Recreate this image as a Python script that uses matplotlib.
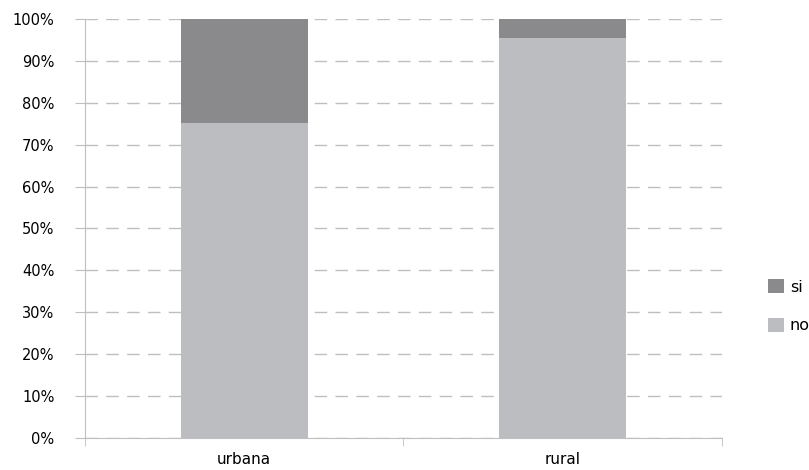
import matplotlib.pyplot as plt
import numpy as np
from matplotlib.ticker import FixedLocator, PercentFormatter

categories = ['urbana', 'rural']
no_vals = [75.2, 95.5]
si_vals = [24.8, 4.5]

c_no = '#bcbdc0'
c_si = '#8a8a8c'
grey = '#bfbfbf'

plt.rcParams['font.family'] = ['DejaVu Sans']

fig = plt.figure(figsize=(8.09, 4.70), dpi=100)
ax = fig.add_axes([85 / 809, 32 / 470, 637 / 809, 419 / 470])

x = np.arange(len(categories))
ax.bar(x, no_vals, width=0.4, color=c_no, label='no', zorder=3)
ax.bar(x, si_vals, width=0.4, bottom=no_vals, color=c_si, label='si', zorder=3)

ax.set_xlim(-0.5, 1.5)
ax.set_ylim(0, 100)
ax.set_yticks(np.arange(0, 101, 10))
ax.yaxis.set_major_formatter(PercentFormatter(decimals=0))
ax.set_xticks(x)
ax.set_xticklabels(categories, fontsize=11)
ax.xaxis.set_minor_locator(FixedLocator([-0.5, 0.5, 1.5]))
ax.tick_params(axis='x', which='major', length=0, pad=10)
ax.tick_params(axis='x', which='minor', length=6, color=grey, direction='out')
ax.tick_params(axis='y', length=7, color=grey, labelsize=10.5, pad=15)

for s in ['top', 'right']:
    ax.spines[s].set_visible(False)
ax.spines['left'].set_color(grey)
ax.spines['bottom'].set_color(grey)

ax.yaxis.grid(True, linestyle=(0, (9, 6)), color=grey, linewidth=1, zorder=0)
ax.set_axisbelow(True)

h, l = ax.get_legend_handles_labels()
fig.legend(h[::-1], l[::-1], loc='center left', bbox_to_anchor=(754 / 809, 0.348),
           frameon=False, fontsize=11.5, handlelength=0.95, handleheight=0.95,
           handletextpad=0.4, labelspacing=1.45)

fig.savefig('out.png')
